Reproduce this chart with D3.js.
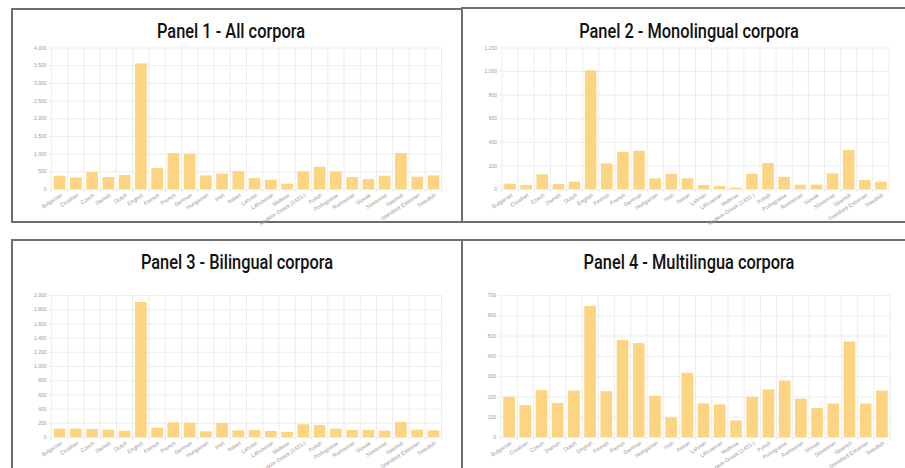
<!DOCTYPE html>
<html lang="en">
<head>
    <meta charset="UTF-8">
    <title>Corpora per language</title>
    <style>
        body {
            margin: 0;
            padding: 0;
            background: #fff;
        }

        .panel-title {
            font-family: Roboto, "Liberation Sans", sans-serif;
            font-weight: 500;
            font-size: 21px;
            fill: #111;
            text-anchor: middle;
        }

        .tick-label {
            font-family: "Liberation Sans", Arial, sans-serif;
            font-size: 5px;
            fill: #9a9a9a;
        }

        .x-label {
            font-size: 5.5px;
        }

        .grid line {
            stroke: #e8e8e8;
            stroke-width: 0.8;
        }

        .bar {
            fill: #fdd582;
        }
    </style>
</head>
<body>
<svg id="chart" width="905" height="468"></svg>

<script src="https://d3js.org/d3.v7.min.js"></script>
<script>
    // languages on the x axis (same for all four panels)
    var categories = ["Bulgarian", "Croatian", "Czech", "Danish", "Dutch", "English", "Finnish", "French",
        "German", "Hungarian", "Irish", "Italian", "Latvian", "Lithuanian", "Maltese", "Modern Greek (1453-)",
        "Polish", "Portuguese", "Romanian", "Slovak", "Slovenian", "Spanish", "Standard Estonian", "Swedish"];

    // number of corpora per language
    var allCorpora = [376, 329, 479, 338, 394, 3549, 592, 1014, 995, 385, 432, 507,
        310, 263, 150, 498, 629, 498, 338, 282, 376, 1014, 347, 385];
    var monolingual = [45, 34, 124, 42, 62, 1006, 217, 315, 324, 90, 127, 90,
        34, 25, 11, 130, 220, 104, 37, 37, 132, 330, 76, 62];
    var bilingual = [118, 118, 113, 104, 89, 1901, 132, 207, 202, 80, 198, 94,
        99, 85, 71, 179, 169, 118, 99, 99, 89, 212, 104, 94];
    var multilingual = [198, 157, 231, 168, 229, 646, 226, 478, 463, 203, 97, 316,
        166, 161, 81, 198, 234, 278, 189, 143, 165, 471, 165, 229];

    // y tick values per panel
    var ticksAll = [0, 500, 1000, 1500, 2000, 2500, 3000, 3500, 4000];
    var ticksMono = [0, 200, 400, 600, 800, 1000, 1200];
    var ticksBi = [0, 200, 400, 600, 800, 1000, 1200, 1400, 1600, 1800, 2000];
    var ticksMulti = [0, 100, 200, 300, 400, 500, 600, 700];

    var titles = ["Panel 1 - All corpora", "Panel 2 - Monolingual corpora",
        "Panel 3 - Bilingual corpora", "Panel 4 - Multilingua corpora"];

    var fmt = d3.formatLocale({decimal: ",", thousands: ".", grouping: [3], currency: ["", ""]}).format(",d");

    var svg = d3.select("#chart");

    var panels = [
        {title: titles[0], values: allCorpora, ticks: ticksAll,
            box: [12, 9, 450, 213], titleX: 231, titleY: 38, plot: [51.5, 47.5, 390, 141.5]},
        {title: titles[1], values: monolingual, ticks: ticksMono,
            box: [462, 8, 460, 214], titleX: 689, titleY: 38, plot: [502, 47.5, 387, 141.5]},
        {title: titles[2], values: bilingual, ticks: ticksBi,
            box: [12, 240, 450, 240], titleX: 237, titleY: 269, plot: [51.5, 295, 390, 142]},
        {title: titles[3], values: multilingual, ticks: ticksMulti,
            box: [462, 240, 460, 240], titleX: 689, titleY: 269, plot: [501, 295, 389, 142]}
    ];

    panels.forEach(function (p) {
        svg.append("rect")
            .attr("x", p.box[0])
            .attr("y", p.box[1])
            .attr("width", p.box[2])
            .attr("height", p.box[3])
            .attr("fill", "none")
            .attr("stroke", "#6e6e6e")
            .attr("stroke-width", 2);

        // condensed look for the title
        svg.append("g")
            .attr("transform", "translate(" + p.titleX + "," + p.titleY + ") scale(0.78,1)")
            .append("text")
            .attr("class", "panel-title")
            .text(p.title);

        var w = p.plot[2], h = p.plot[3];
        var g = svg.append("g")
            .attr("transform", "translate(" + p.plot[0] + "," + p.plot[1] + ")");

        var x = d3.scaleBand()
            .domain(categories)
            .range([0, w])
            .paddingInner(0.28)
            .paddingOuter(0.14);

        var y = d3.scaleLinear()
            .domain([0, d3.max(p.ticks)])
            .range([h, 0]);

        // horizontal grid + y labels
        var yAxis = g.append("g")
            .attr("class", "grid")
            .attr("transform", "translate(-2.5,0)")
            .call(d3.axisLeft(y).tickValues(p.ticks).tickFormat(fmt).tickSize(-(w + 2.5)).tickPadding(2.5));
        yAxis.select(".domain").remove();
        yAxis.selectAll("text").attr("class", "tick-label").attr("font-size", null).attr("font-family", null);

        // vertical grid lines between categories
        var edges = d3.range(categories.length + 1).map(function (i) { return i * x.step(); });
        g.append("g")
            .attr("class", "grid")
            .selectAll("line")
            .data(edges)
            .enter().append("line")
            .attr("x1", d => d)
            .attr("x2", d => d)
            .attr("y1", 0)
            .attr("y2", h + 3);

        g.selectAll(".bar")
            .data(p.values)
            .enter().append("rect")
            .attr("class", "bar")
            .attr("x", (d, i) => x(categories[i]))
            .attr("y", d => y(d))
            .attr("width", x.bandwidth())
            .attr("height", d => h - y(d));

        // rotated category labels
        var xAxis = g.append("g")
            .attr("transform", "translate(0," + h + ")")
            .call(d3.axisBottom(x).tickSize(0).tickPadding(0));
        xAxis.select(".domain").remove();
        xAxis.selectAll("text")
            .attr("class", "tick-label x-label")
            .attr("font-size", null)
            .attr("font-family", null)
            .attr("text-anchor", "end")
            .attr("dy", null)
            .attr("y", 0)
            .attr("transform", "translate(3,7) rotate(-33)");
    });
</script>
</body>
</html>
